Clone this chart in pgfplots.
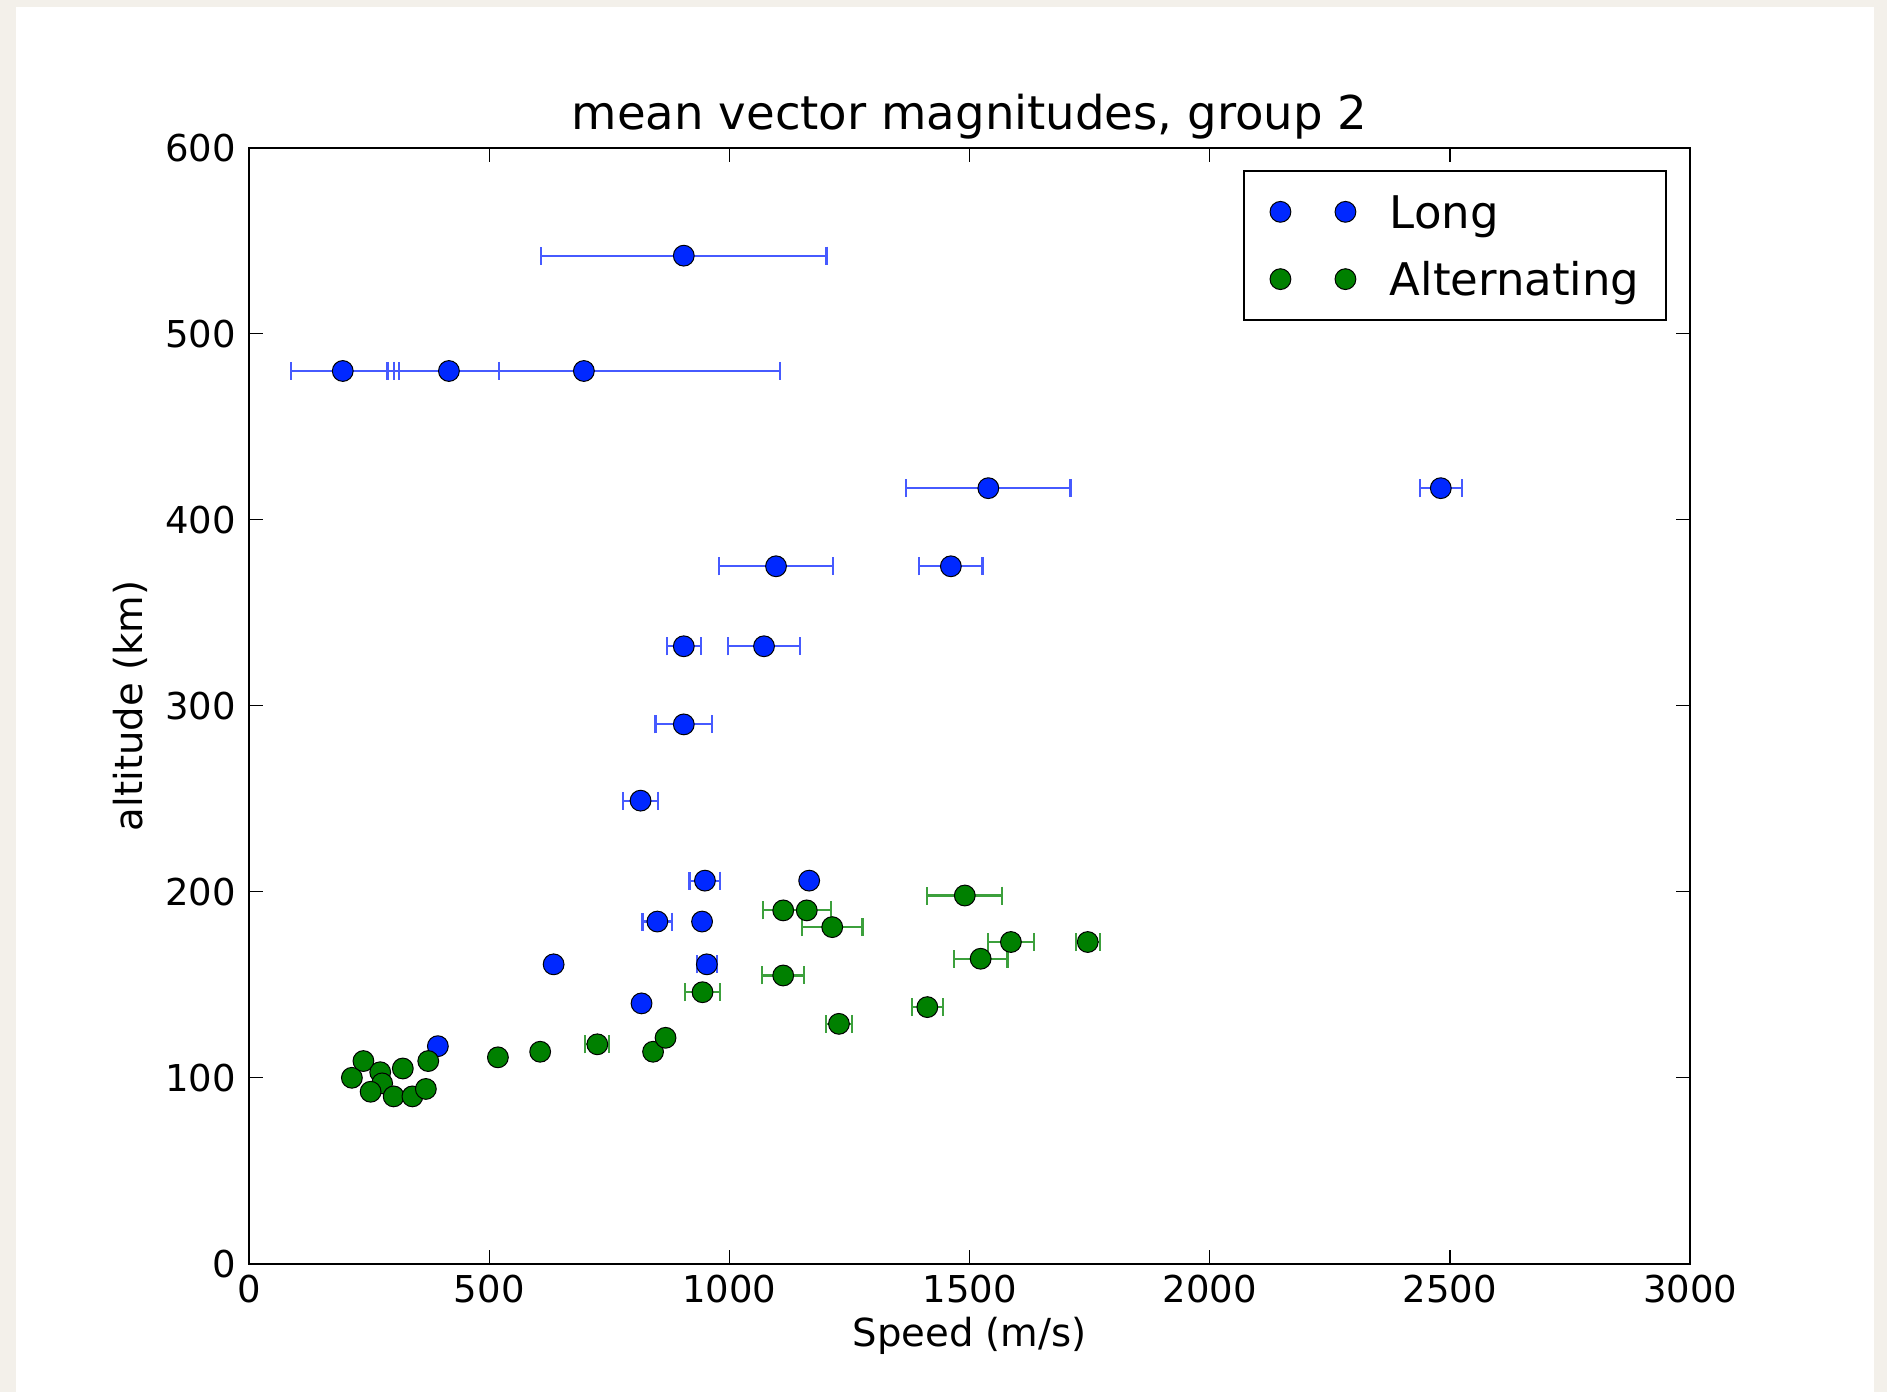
\documentclass[border=0pt]{standalone}
\usepackage{fontspec}
\setmainfont{DejaVu Sans}
\usepackage{pgfplots}
\usepackage{pgfplotstable}
\pgfplotsset{compat=1.18}

\definecolor{bgbeige}{RGB}{243,240,234}
\definecolor{mblue}{RGB}{0,40,255}
\definecolor{eblue}{RGB}{70,90,255}
\definecolor{mgreen}{RGB}{0,128,0}
\definecolor{egreen}{RGB}{60,160,60}

% long runs: speed, altitude, speed error
\pgfplotstableread{
x y ex
905 542 297
195 480 107
416 480 104
697 480 409
1539 417 171
2481 417 44
1097 375 118
1461 375 66
905 332 35
1072 332 75
905 290 59
815 249 37
949 206 32
1166 206 0
850 184 31
943 184 0
634 161 0
953 161 21
817 140 0
393 117 0
}\longdata

% alternating runs
\pgfplotstableread{
x y ex
214 100 0
238 109 0
273 103 0
277 97 0
253 92.5 0
301 90 0
320 105 0
340 90 0
368 94 0
373 109 0
518 111 0
606 114 0
725 118 25
841 114 0
867 121.5 0
944 146 37
1112 155 44
1112 190 42
1161 190 50
1214 181 63
1490 198 78
1586 173 48
1746 173 25
1523 164 56
1412 138 32
1228 129 27
}\altdata

\begin{document}
\begin{tikzpicture}
\fill[bgbeige] (0,0) rectangle (943.5pt,696pt);
\fill[white] (8pt,0) rectangle (937pt,692.5pt);
\begin{axis}[
    at={(124.55pt,64.1pt)}, anchor=south west,
    scale only axis, width=720.5pt, height=558pt,
    xmin=0, xmax=3000, ymin=0, ymax=600,
    xtick={0,500,...,3000}, ytick={0,100,...,600},
    scaled ticks=false,
    /pgf/number format/1000 sep={},
    /pgf/number format/assume math mode=true,
    tick align=inside, major tick length=7pt,
    every tick/.style={black, line width=0.6pt},
    axis line style={line width=1.2pt},
    tick label style={font=\fontsize{18.5}{22}\selectfont},
    xticklabel style={yshift=-2pt},
    yticklabel style={xshift=-3pt},
    title={mean vector magnitudes, group 2},
    title style={font=\fontsize{23.3}{28}\selectfont, at={(axis description cs:0.5,1.0053)}, anchor=base, yshift=0pt},
    xlabel={Speed (m/s)},
    xlabel style={font=\fontsize{19.3}{23}\selectfont, at={(axis description cs:0.5,-0.065)}, anchor=center},
    ylabel={altitude (km)},
    ylabel style={font=\fontsize{19.3}{23}\selectfont, at={(axis description cs:-0.0826,0.5)}, anchor=center},
    legend image code/.code={\path[#1] plot[only marks] coordinates {(0pt,0pt) (32.5pt,0pt)};},
    legend style={draw=black, line width=1pt, fill=white,
        font=\fontsize{22.5}{27}\selectfont,
        at={(axis description cs:1,1)}, xshift=-11.8pt, yshift=-10.9pt, anchor=north east,
        inner xsep=13pt, inner ysep=3.8pt, column sep=17pt,
        nodes={inner sep=0pt, text height=25pt, text depth=8.65pt},
        cells={anchor=west}},
]
\addplot[only marks, mark=*, mark size=5.2pt,
    mark options={fill=mblue, draw=black, line width=0.5pt},
    error bars/.cd, x dir=both, x explicit,
    error bar style={eblue, line width=1.1pt},
    error mark options={eblue, rotate=90, line width=1.1pt, mark size=4.5pt}]
    table[x=x, y=y, x error=ex] {\longdata};
\addlegendentry{Long}
\addplot[only marks, mark=*, mark size=5.2pt,
    mark options={fill=mgreen, draw=black, line width=0.5pt},
    error bars/.cd, x dir=both, x explicit,
    error bar style={egreen, line width=1.1pt},
    error mark options={egreen, rotate=90, line width=1.1pt, mark size=4.5pt}]
    table[x=x, y=y, x error=ex] {\altdata};
\addlegendentry{Alternating}
\end{axis}
\end{tikzpicture}
\end{document}
